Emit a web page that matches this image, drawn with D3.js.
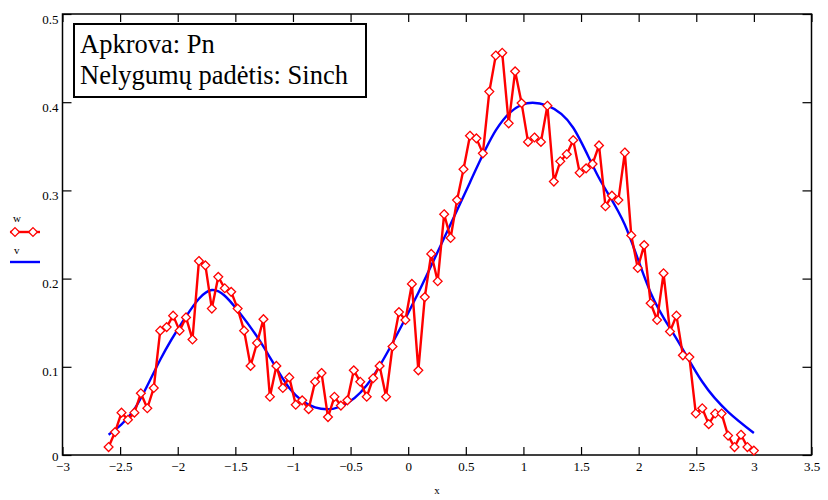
<!DOCTYPE html>
<meta charset="utf-8">
<style>
body { margin: 0; background: #fff; }
svg { display: block; }
text { font-family: "Liberation Serif", "Times New Roman", serif; }
.axis path { display: none; }
.axis line { stroke: #000; stroke-width: 1.2px; }
.axis text { font-size: 13px; fill: #000; font-family: "Liberation Serif", serif; }
</style>
<svg></svg>
<script src="https://d3js.org/d3.v7.min.js"></script>
<script>

// sample positions of w
var xs = [-2.6, -2.544, -2.488, -2.432, -2.376, -2.32, -2.264, -2.208, -2.152, -2.096,
  -2.04, -1.984, -1.928, -1.872, -1.816, -1.76, -1.704, -1.648, -1.592, -1.536,
  -1.48, -1.424, -1.368, -1.312, -1.256, -1.2, -1.144, -1.088, -1.032, -0.976,
  -0.92, -0.864, -0.808, -0.752, -0.696, -0.64, -0.584, -0.528, -0.472, -0.416,
  -0.36, -0.304, -0.248, -0.192, -0.136, -0.08, -0.024, 0.032, 0.088, 0.144,
  0.2, 0.256, 0.312, 0.368, 0.424, 0.48, 0.536, 0.592, 0.648, 0.704,
  0.76, 0.816, 0.872, 0.928, 0.984, 1.04, 1.096, 1.152, 1.208, 1.264,
  1.32, 1.376, 1.432, 1.488, 1.544, 1.6, 1.656, 1.712, 1.768, 1.824,
  1.88, 1.936, 1.992, 2.048, 2.104, 2.16, 2.216, 2.272, 2.328, 2.384,
  2.44, 2.496, 2.552, 2.608, 2.664, 2.72, 2.776, 2.832, 2.888, 2.944, 3.0]

// w (red, noisy)
var w = [0.009, 0.026, 0.048, 0.040, 0.048, 0.070, 0.053, 0.076, 0.141, 0.145,
  0.158, 0.141, 0.156, 0.131, 0.220, 0.215, 0.166, 0.202, 0.189, 0.185,
  0.166, 0.141, 0.101, 0.127, 0.154, 0.066, 0.101, 0.076, 0.088, 0.057,
  0.062, 0.052, 0.083, 0.093, 0.043, 0.066, 0.056, 0.062, 0.096, 0.083,
  0.066, 0.087, 0.101, 0.066, 0.123, 0.162, 0.153, 0.194, 0.096, 0.179,
  0.228, 0.197, 0.273, 0.246, 0.289, 0.324, 0.362, 0.359, 0.342, 0.412,
  0.453, 0.456, 0.376, 0.435, 0.399, 0.355, 0.360, 0.355, 0.396, 0.310,
  0.333, 0.341, 0.357, 0.320, 0.325, 0.330, 0.351, 0.282, 0.294, 0.289,
  0.343, 0.249, 0.212, 0.238, 0.172, 0.153, 0.206, 0.140, 0.158, 0.113,
  0.111, 0.047, 0.053, 0.035, 0.047, 0.047, 0.022, 0.009, 0.023, 0.009, 0.005]

// v (blue, smooth)
var vx = [-2.6, -2.376, -2.152, -1.928, -1.704, -1.48, -1.256, -1.032, -0.808, -0.584,
  -0.36, -0.136, 0.088, 0.312, 0.536, 0.76, 0.984, 1.208, 1.432, 1.656,
  1.88, 2.104, 2.328, 2.552, 2.776, 3.0]
var v = [0.023, 0.052, 0.108, 0.157, 0.187, 0.164, 0.123, 0.076, 0.054, 0.055,
  0.079, 0.127, 0.184, 0.246, 0.309, 0.368, 0.397, 0.396, 0.371, 0.314,
  0.261, 0.184, 0.132, 0.083, 0.049, 0.025]

var xTicks = [-3, -2.5, -2, -1.5, -1, -0.5, 0, 0.5, 1, 1.5, 2, 2.5, 3, 3.5]
var yTicks = [0, 0.1, 0.2, 0.3, 0.4, 0.5]
var boxLines = ["Apkrova: Pn", "Nelygumų padėtis: Sinch"]

var svg = d3.select("svg").attr("width", 828).attr("height", 500)

// plot frame (note: "top" is a reserved window property, so pTop etc.)
var pLeft = 62.5, pRight = 811.5, pTop = 14, pBottom = 455

var x = d3.scaleLinear().domain([-3, 3.5]).range([pLeft, pRight])
var y = d3.scaleLinear().domain([0, 0.5]).range([pBottom, pTop])

var fmt = function(d) { return d === 0 ? "0" : d3.format("")(d).replace("-", "\u2212") }

// axes, ticks inside the frame
svg.append("g").attr("class", "axis")
  .attr("transform", "translate(0," + pBottom + ")")
  .call(d3.axisBottom(x).tickValues(xTicks).tickSizeInner(-8).tickSizeOuter(0).tickPadding(5).tickFormat(fmt))
  .selectAll("text").attr("dy", "0.85em")

svg.append("g").attr("class", "axis")
  .attr("transform", "translate(0," + pTop + ")")
  .call(d3.axisTop(x).tickValues(xTicks).tickSizeInner(-8).tickSizeOuter(0).tickFormat(""))

svg.append("g").attr("class", "axis")
  .attr("transform", "translate(" + pLeft + ",0)")
  .call(d3.axisLeft(y).tickValues(yTicks).tickSizeInner(-9).tickSizeOuter(0).tickPadding(4).tickFormat(fmt))
  .selectAll("text").attr("dy", function(d) { return d === 0 ? "0.45em" : "0.7em" })

svg.append("g").attr("class", "axis")
  .attr("transform", "translate(" + pRight + ",0)")
  .call(d3.axisRight(y).tickValues(yTicks).tickSizeInner(-9).tickSizeOuter(0).tickFormat(""))

svg.append("rect")
  .attr("x", pLeft).attr("y", pTop)
  .attr("width", pRight - pLeft).attr("height", pBottom - pTop)
  .attr("fill", "none").attr("stroke", "#000").attr("stroke-width", 1.5)

svg.append("text")
  .attr("x", x(0.25)).attr("y", 494)
  .attr("text-anchor", "middle").attr("font-size", 11)
  .text("x")

var plot = svg.append("g")

// v line
var vData = vx.map(function(d, i) { return [d, v[i]] })
plot.append("path")
  .datum(vData)
  .attr("fill", "none")
  .attr("stroke", "#0000ff")
  .attr("stroke-width", 2.4)
  .attr("d", d3.line().x(function(d) { return x(d[0]) }).y(function(d) { return y(d[1]) }).curve(d3.curveNatural))

// w line + diamonds
var wData = xs.map(function(d, i) { return [d, w[i]] })
plot.append("path")
  .datum(wData)
  .attr("fill", "none")
  .attr("stroke", "#ff0000")
  .attr("stroke-width", 2.4)
  .attr("stroke-linejoin", "round")
  .attr("d", d3.line().x(function(d) { return x(d[0]) }).y(function(d) { return y(d[1]) }))

var diamond = "M0,-4.4L4.4,0L0,4.4L-4.4,0Z"
plot.selectAll(".dm")
  .data(wData)
  .enter().append("path")
  .attr("class", "dm")
  .attr("transform", function(d) { return "translate(" + x(d[0]) + "," + y(d[1]) + ")" })
  .attr("d", diamond)
  .attr("fill", "#fff")
  .attr("stroke", "#ff0000")
  .attr("stroke-width", 1.3)

// legend on the left
var lg = svg.append("g")
lg.append("text").attr("x", 13).attr("y", 222).attr("font-size", 11).text("w")
lg.append("line").attr("x1", 10).attr("x2", 40).attr("y1", 232).attr("y2", 232)
  .attr("stroke", "#ff0000").attr("stroke-width", 2.4)
lg.selectAll(".ld").data([15, 33]).enter().append("path")
  .attr("transform", function(d) { return "translate(" + d + ",232)" })
  .attr("d", diamond).attr("fill", "#fff").attr("stroke", "#ff0000").attr("stroke-width", 1.3)
lg.append("text").attr("x", 14).attr("y", 254).attr("font-size", 11).text("v")
lg.append("line").attr("x1", 10).attr("x2", 40).attr("y1", 262).attr("y2", 262)
  .attr("stroke", "#0000ff").attr("stroke-width", 2.4)

// annotation box
svg.append("rect")
  .attr("x", 74).attr("y", 24).attr("width", 292).attr("height", 73)
  .attr("fill", "#fff").attr("stroke", "#000").attr("stroke-width", 2)
svg.selectAll(".bt").data(boxLines).enter().append("text")
  .attr("x", 80).attr("y", function(d, i) { return 53 + i * 31 })
  .attr("font-size", 26.5)
  .text(function(d) { return d })

</script>
